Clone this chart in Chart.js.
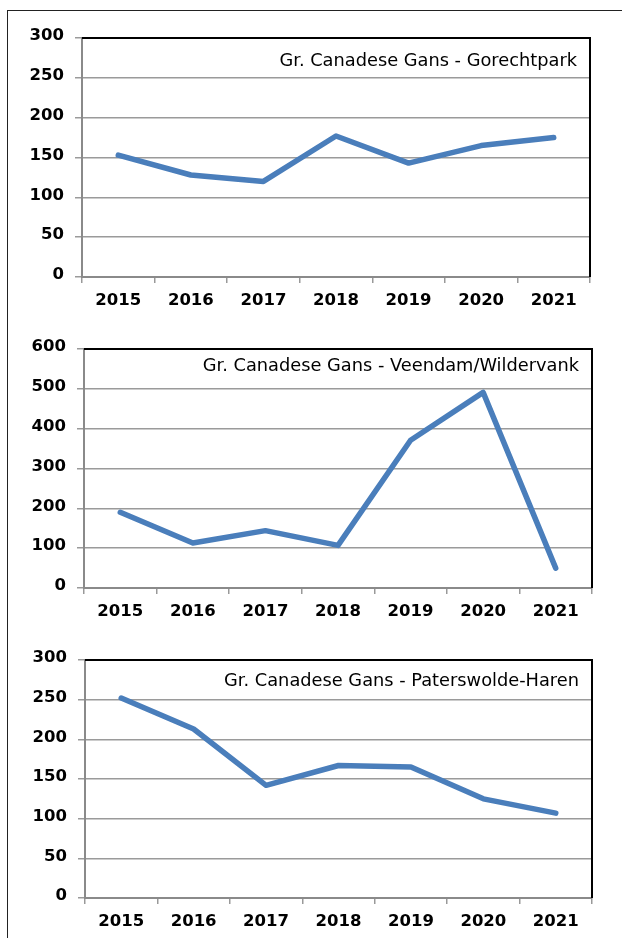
<!DOCTYPE html>
<html>
<head>
<meta charset="utf-8">
<script src="https://cdn.jsdelivr.net/npm/chart.js@4/dist/chart.umd.min.js"></script>
<style>
  html, body { margin: 0; padding: 0; background: #fff; }
  body { width: 622px; height: 938px; position: relative; overflow: hidden; }
  #frame { position: absolute; left: 7px; top: 10px; width: 700px; height: 1000px;
           border-top: 1px solid #222; border-left: 1px solid #222; }
  canvas { position: absolute; left: 0; }
</style>
</head>
<body>
<div id="frame"></div>
<canvas id="c1" width="622" height="311" style="top:0px"></canvas>
<canvas id="c2" width="622" height="311" style="top:311px"></canvas>
<canvas id="c3" width="622" height="311" style="top:622px"></canvas>
<script>
// ---- data ----
const years = ['2015', '2016', '2017', '2018', '2019', '2020', '2021'];
const gorechtpark = [153, 128, 120, 177, 143, 165, 175];
const veendamWildervank = [190, 113, 144, 107, 371, 491, 50];
const paterswoldeHaren = [252, 213, 142, 167, 165, 125, 107];
const chartTitles = [
  'Gr. Canadese Gans - Gorechtpark',
  'Gr. Canadese Gans - Veendam/Wildervank',
  'Gr. Canadese Gans - Paterswolde-Haren'
];
const yMaxes = [300, 600, 300];
const ySteps = [50, 100, 50];

// ---- layout / style ----
const layouts = [
  { left: 82, right: 32, top: 38, bottom: 277, titleDy: 23 },
  { left: 84, right: 30, top: 38, bottom: 277, titleDy: 17 },
  { left: 85, right: 30, top: 38, bottom: 276, titleDy: 21 }
];
const tickFont = { family: 'DejaVu Sans', size: 16.5, weight: 'bold' };
const lineColor = '#4A7EBB';

const framePlugin = {
  id: 'frameTitle',
  afterDraw(chart, args, opts) {
    const { ctx, chartArea: a } = chart;
    ctx.save();
    ctx.strokeStyle = '#000';
    ctx.lineWidth = 2;
    ctx.beginPath();
    ctx.moveTo(a.left, a.top);
    ctx.lineTo(a.right, a.top);
    ctx.lineTo(a.right, a.bottom);
    ctx.stroke();
    ctx.font = '17.8px "DejaVu Sans"';
    ctx.fillStyle = '#000';
    ctx.textAlign = 'right';
    ctx.textBaseline = 'middle';
    ctx.fillText(opts.text, a.right - 13, a.top + opts.dy);
    ctx.restore();
  }
};

const seriesList = [gorechtpark, veendamWildervank, paterswoldeHaren];

seriesList.forEach((values, i) => {
  const L = layouts[i];
  const H = 311;
  new Chart(document.getElementById('c' + (i + 1)), {
    type: 'line',
    data: {
      labels: years,
      datasets: [{
        data: values,
        borderColor: lineColor,
        borderWidth: 5.5,
        pointRadius: 0,
        pointHoverRadius: 0,
        tension: 0,
        fill: false,
        borderCapStyle: 'round',
        borderJoinStyle: 'round'
      }]
    },
    options: {
      responsive: false,
      animation: false,
      devicePixelRatio: 1,
      layout: { padding: { top: L.top, right: L.right, left: 0, bottom: 0 } },
      plugins: {
        legend: { display: false },
        tooltip: { enabled: false },
        title: { display: false },
        frameTitle: { text: chartTitles[i], dy: L.titleDy }
      },
      scales: {
        x: {
          type: 'category',
          offset: true,
          afterFit(scale) { scale.height = H - L.bottom; },
          grid: { offset: true, drawOnChartArea: false, drawTicks: true, tickLength: 6, color: '#999', lineWidth: 1.5 },
          border: { color: '#8a8a8a', width: 2 },
          ticks: { color: '#000', font: tickFont, padding: 8, maxRotation: 0, autoSkip: false }
        },
        y: {
          min: 0,
          max: yMaxes[i],
          afterFit(scale) { scale.width = L.left; },
          grid: { color: '#9a9a9a', lineWidth: 1.5, tickLength: 7, drawTicks: true },
          border: { color: '#8a8a8a', width: 2 },
          ticks: { stepSize: ySteps[i], color: '#000', font: tickFont, padding: 11, labelOffset: -2 }
        }
      }
    },
    plugins: [framePlugin]
  });
});
</script>
</body>
</html>
